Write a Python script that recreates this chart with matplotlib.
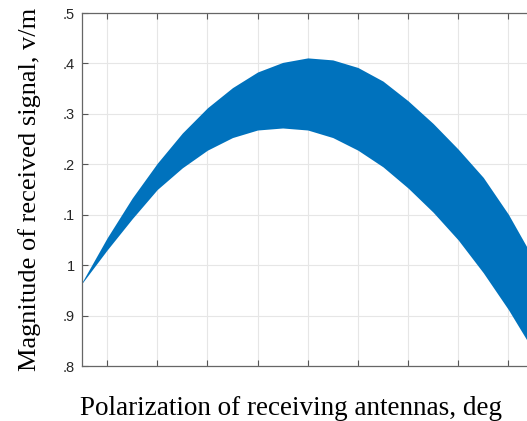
import numpy as np
import matplotlib
matplotlib.use("Agg")
from matplotlib import pyplot as plt

# polarization angle, deg
angle = [5, 10, 15, 20, 25, 30, 35, 40, 45, 50, 55, 60, 65, 70, 75, 80, 85, 90, 95]
# upper / lower bound of received signal magnitude, v/m
upper = [0.966, 1.054, 1.133, 1.202, 1.262, 1.312, 1.352, 1.383, 1.402, 1.411,
         1.407, 1.392, 1.365, 1.326, 1.281, 1.230, 1.174, 1.101, 1.013]
lower = [0.964, 1.030, 1.092, 1.150, 1.193, 1.228, 1.253, 1.268, 1.272, 1.268,
         1.253, 1.228, 1.195, 1.153, 1.105, 1.050, 0.985, 0.912, 0.830]

xticks = [10, 20, 30, 40, 50, 60, 70, 80, 90]
yticks = [0.8, 0.9, 1.0, 1.1, 1.2, 1.3, 1.4, 1.5]
ytick_labels = ['.8', '.9', '1', '.1', '.2', '.3', '.4', '.5']

fig = plt.figure(figsize=(5.27, 4.21), dpi=100)
ax = fig.add_axes([0.1556, 0.1306, 0.8566, 0.8385])

ax.fill_between(angle, lower, upper, color='#0072BD', linewidth=0, zorder=2)

ax.set_xlim(5, 95)
ax.set_ylim(0.8, 1.5)
ax.set_xticks(xticks)
ax.set_yticks(yticks)
ax.set_xticklabels([])
ax.set_yticklabels(ytick_labels, fontfamily='Liberation Sans', fontsize=10.5, color='#262626')

ax.grid(True, color='#e6e6e6', linewidth=0.8, zorder=0)
ax.set_axisbelow(True)
ax.tick_params(direction='in', length=4, width=0.8, color='#555555',
               top=True, right=True, pad=5)
for s in ax.spines.values():
    s.set_color('#666666')
    s.set_linewidth(0.9)

ax.set_xlabel('Polarization of receiving antennas, deg', fontfamily='Liberation Serif',
              fontsize=19.5, labelpad=13)
ax.xaxis.set_label_coords(0.463, -0.085, transform=ax.transAxes)
ax.xaxis.label.set_va('top')
ax.set_ylabel('Magnitude of received signal, v/m', fontfamily='Liberation Serif',
              fontsize=19, labelpad=16)

fig.savefig('out.png', dpi=100)
